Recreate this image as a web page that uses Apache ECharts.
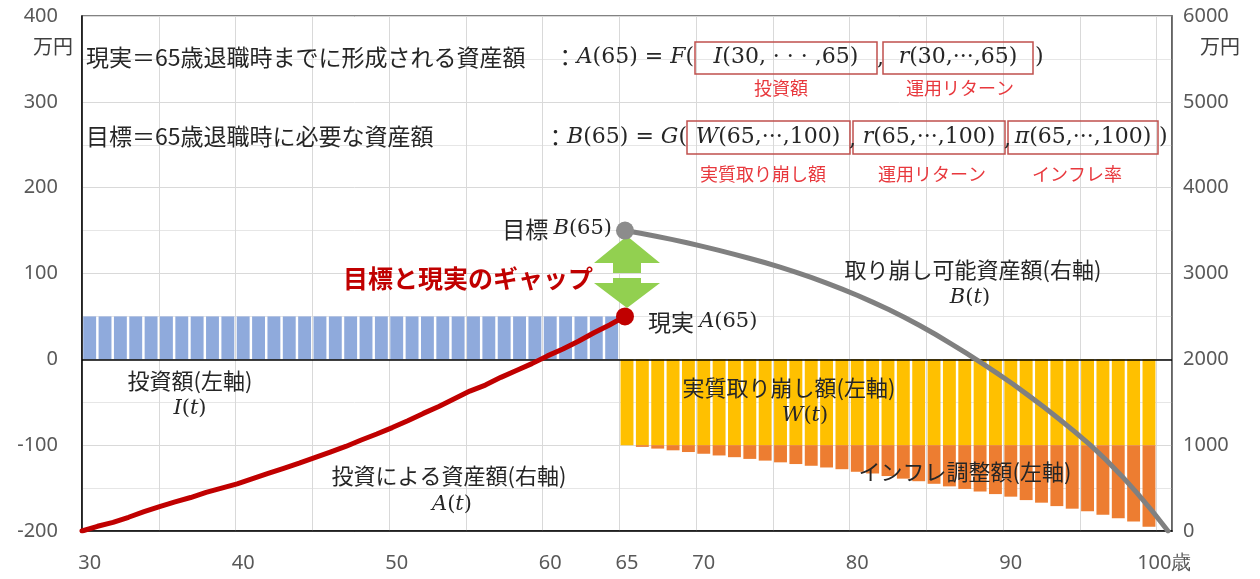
<!DOCTYPE html>
<html><head><meta charset="utf-8">
<script src="https://cdn.jsdelivr.net/npm/echarts@6/dist/echarts.min.js"></script>
<style>html,body{margin:0;padding:0;background:#fff}#c{width:1260px;height:579px}</style>
</head><body><div id="c"></div>
<script>
// ---- data ----
const ages = [30,31,32,33,34,35,36,37,38,39,40,41,42,43,44,45,46,47,48,49,50,51,52,53,54,55,56,57,58,59,60,61,62,63,64,65,66,67,68,69,70,71,72,73,74,75,76,77,78,79,80,81,82,83,84,85,86,87,88,89,90,91,92,93,94,95,96,97,98,99,100];
const xTickLabels = [30,40,50,60,65,70,80,90,100];
// investment I(t), ages 30-64 (left axis, 万円)
const investment = [50,50,50,50,50,50,50,50,50,50,50,50,50,50,50,50,50,50,50,50,50,50,50,50,50,50,50,50,50,50,50,50,50,50,50];
// real withdrawal W(t), ages 65-99 (left axis)
const realWithdrawal = [-100,-100,-100,-100,-100,-100,-100,-100,-100,-100,-100,-100,-100,-100,-100,-100,-100,-100,-100,-100,-100,-100,-100,-100,-100,-100,-100,-100,-100,-100,-100,-100,-100,-100,-100];
// inflation adjustment, ages 65-99 (left axis)
const inflationAdj = [0,-2,-4,-6,-8,-10,-12,-14,-16,-18,-20,-22,-24,-26,-28,-31,-33,-36,-39,-42,-45,-48,-51,-54,-57,-60,-64,-67,-71,-74,-77,-81,-85,-89,-95];
// asset by investment A(t), ages 30-65 (right axis)
const assetA = [0,55,100,160,225,285,340,390,450,500,550,610,670,730,790,855,920,985,1060,1130,1205,1285,1370,1450,1540,1630,1700,1790,1870,1950,2040,2120,2210,2310,2400,2500];
// drawable asset B(t), ages 65-100 (right axis)
const assetB = [3500,3468,3434,3398,3358,3316,3272,3226,3178,3128,3074,3016,2954,2888,2818,2744,2664,2580,2490,2394,2292,2184,2072,1956,1836,1712,1580,1444,1302,1155,1000,830,645,445,230,0];

// ---- build ----
const i65 = ages.indexOf(65);
const investData = ages.map((a,i)=> i < i65 ? investment[i] : '-');
const wData = ages.map((a,i)=> (i >= i65 && i - i65 < realWithdrawal.length) ? realWithdrawal[i-i65] : '-');
const infData = ages.map((a,i)=> (i >= i65 && i - i65 < inflationAdj.length) ? inflationAdj[i-i65] : '-');
const lineA = assetA.map((v,i)=>[ages[i], v]);
const lineB = assetB.map((v,i)=>[ages[i65+i], v]);

const CJK = '"Noto Sans CJK JP", sans-serif';
const SERIF = '"DejaVu Serif", serif';
const TXT = '#262626';
const RED = '#E8383D';
const BOXC = '#C0504D';
const rich = {
  c: {fontFamily: CJK, fontSize: 23, fill: TXT, color: TXT},
  m: {fontFamily: SERIF, fontStyle: 'italic', fontSize: 21, fill: TXT, color: TXT},
  n: {fontFamily: SERIF, fontSize: 21, fill: TXT, color: TXT},
  M: {fontFamily: SERIF, fontStyle: 'italic', fontSize: 22, fill: TXT, color: TXT},
  N: {fontFamily: SERIF, fontSize: 22, fill: TXT, color: TXT}
};
function T(x, y, text, opt) {
  opt = opt || {};
  return {type: 'text', x: x, y: y, z: 20, silent: true,
    style: Object.assign({text: text, rich: rich, fill: TXT, font: '22px ' + CJK,
      align: opt.align || 'left', verticalAlign: 'middle'}, opt.style || {})};
}
function Box(x, y, w, h) {
  return {type: 'rect', z: 19, silent: true, shape: {x: x, y: y, width: w, height: h},
    style: {fill: 'rgba(0,0,0,0)', stroke: BOXC, lineWidth: 1.5}};
}
function Lab(x, y, text) {
  return T(x, y, text, {align: 'center', style: {fill: RED, font: '18px ' + CJK}});
}

const graphics = [
  T(86, 57, '現実＝65歳退職時までに形成される資産額', {style: {font: '23px ' + CJK}}),
  T(694, 57, '{c|：}{M|A}{N|(65) = }{M|F}{N|(}', {align: 'right'}),
  Box(695, 42, 182, 32), T(786, 57, '{M|I}{N|(30, · · · ,65)}', {align: 'center'}),
  T(877, 59, '{N|,}'),
  Box(883, 42, 150, 32), T(958, 57, '{M|r}{N|(30,···,65)}', {align: 'center'}),
  T(1035, 57, '{N|)}'),
  Lab(781, 88, '投資額'), Lab(960, 88, '運用リターン'),

  T(86, 136, '目標＝65歳退職時に必要な資産額', {style: {font: '23px ' + CJK}}),
  T(687, 137, '{c|：}{M|B}{N|(65) = }{M|G}{N|(}', {align: 'right'}),
  Box(687, 121, 163, 33), T(768, 137, '{M|W}{N|(65,···,100)}', {align: 'center'}),
  T(849, 140, '{N|,}'),
  Box(853, 121, 152, 33), T(929, 137, '{M|r}{N|(65,···,100)}', {align: 'center'}),
  T(1004, 140, '{N|,}'),
  Box(1008, 121, 150, 33), T(1083, 137, '{M|π}{N|(65,···,100)}', {align: 'center'}),
  T(1159, 137, '{N|)}'),
  Lab(763, 174, '実質取り崩し額'), Lab(932, 174, '運用リターン'), Lab(1077, 174, 'インフレ率'),

  T(612, 229, '{c|目標 }{m|B}{n|(65)}', {align: 'right'}),
  T(343, 278, '目標と現実のギャップ', {style: {fill: '#C00000', font: 'bold 25px ' + CJK}}),
  T(648, 322, '{c|現実 }{m|A}{n|(65)}'),
  T(973, 270, '取り崩し可能資産額(右軸)', {align: 'center'}),
  T(970, 298, '{m|B}{n|(}{m|t}{n|)}', {align: 'center'}),
  T(190, 381, '投資額(左軸)', {align: 'center'}),
  T(190, 409, '{m|I}{n|(}{m|t}{n|)}', {align: 'center'}),
  T(789, 388, '実質取り崩し額(左軸)', {align: 'center'}),
  T(805, 416, '{m|W}{n|(}{m|t}{n|)}', {align: 'center'}),
  T(449, 476, '投資による資産額(右軸)', {align: 'center'}),
  T(452, 505, '{m|A}{n|(}{m|t}{n|)}', {align: 'center'}),
  T(965, 472, 'インフレ調整額(左軸)', {align: 'center'}),
  T(73, 46, '万円', {align: 'right', style: {font: '20px ' + CJK, fill: '#404040'}}),
  T(1240, 46, '万円', {align: 'right', style: {font: '20px ' + CJK, fill: '#404040'}}),
  {type: 'polygon', z: 3, silent: true, shape: {points: [[627,236],[660,263],[641,263],[641,273],[613,273],[613,263],[594,263]]}, style: {fill: '#92D050'}},
  {type: 'polygon', z: 3, silent: true, shape: {points: [[613,278],[641,278],[641,283],[660,283],[627,308],[594,283],[613,283]]}, style: {fill: '#92D050'}}
];

const chart = echarts.init(document.getElementById('c'), null, {renderer: 'canvas'});
chart.setOption({
  animation: false,
  backgroundColor: '#fff',
  grid: {left: 82, right: 88, top: 16, bottom: 48, show: true, borderColor: '#595959', borderWidth: 1.5, containLabel: false},
  xAxis: [
    {type: 'category', data: ages, boundaryGap: true, gridIndex: 0,
     axisLine: {onZero: false, lineStyle: {color: '#000', width: 1.5}},
     axisTick: {show: false},
     axisLabel: {interval: function(i, v){ return xTickLabels.indexOf(+v) >= 0; },
       formatter: function(v){ return +v === 100 ? v + '歳' : v; },
       color: '#595959', fontSize: 20, margin: 22, fontFamily: '"Noto Sans", sans-serif', hideOverlap: false},
     splitLine: {show: true, interval: function(i){ return i % 5 === 0; }, lineStyle: {color: '#d9d9d9', width: 1}}},
    {type: 'value', min: 30, max: 100.26, show: false, gridIndex: 0}
  ],
  yAxis: [
    {type: 'value', min: -200, max: 400, interval: 100, position: 'left',
     axisLine: {show: true, lineStyle: {color: '#000', width: 1.5}},
     axisTick: {show: false},
     axisLabel: {color: '#595959', fontSize: 20, margin: 24, fontFamily: '"Noto Sans", sans-serif'},
     splitLine: {show: true, lineStyle: {color: '#d9d9d9'}},
     minorTick: {show: false, splitNumber: 2},
     minorSplitLine: {show: true, lineStyle: {color: '#e6e6e6'}}},
    {type: 'value', min: 0, max: 6000, interval: 1000, position: 'right',
     axisLine: {show: true, lineStyle: {color: '#595959', width: 1.5}},
     axisTick: {show: false},
     axisLabel: {color: '#595959', fontSize: 20, margin: 11, fontFamily: '"Noto Sans", sans-serif',
       formatter: function(v){ return String(v); }},
     splitLine: {show: false}}
  ],
  series: [
    {name: '投資額', type: 'bar', xAxisIndex: 0, yAxisIndex: 0, stack: 'w', data: investData,
     barCategoryGap: '16%', itemStyle: {color: '#8FAADC'},
     markLine: {silent: true, symbol: 'none', label: {show: false},
       lineStyle: {color: '#000', width: 1.5, type: 'solid'}, data: [{yAxis: 0}]}},
    {name: '実質取り崩し額', type: 'bar', xAxisIndex: 0, yAxisIndex: 0, stack: 'w', data: wData,
     barCategoryGap: '16%', itemStyle: {color: '#FFC000'}},
    {name: 'インフレ調整額', type: 'bar', xAxisIndex: 0, yAxisIndex: 0, stack: 'w', data: infData,
     barCategoryGap: '16%', itemStyle: {color: '#ED7D31'}},
    {name: 'A', type: 'line', xAxisIndex: 1, yAxisIndex: 1, data: lineA, symbol: 'none', z: 5,
     lineStyle: {color: '#C00000', width: 5, cap: 'round', join: 'round'}},
    {name: 'B', type: 'line', xAxisIndex: 1, yAxisIndex: 1, data: lineB, symbol: 'none', z: 5,
     lineStyle: {color: '#808080', width: 5, cap: 'round', join: 'round'}},
    {name: 'A65', type: 'scatter', xAxisIndex: 1, yAxisIndex: 1, data: [lineA[lineA.length-1]], symbolSize: 18, z: 10,
     itemStyle: {color: '#C00000', opacity: 1}},
    {name: 'B65', type: 'scatter', xAxisIndex: 1, yAxisIndex: 1, data: [lineB[0]], symbolSize: 18, z: 10,
     itemStyle: {color: '#8C8C8C', opacity: 1}}
  ],
  graphic: {elements: graphics}
});
</script>
</body></html>
